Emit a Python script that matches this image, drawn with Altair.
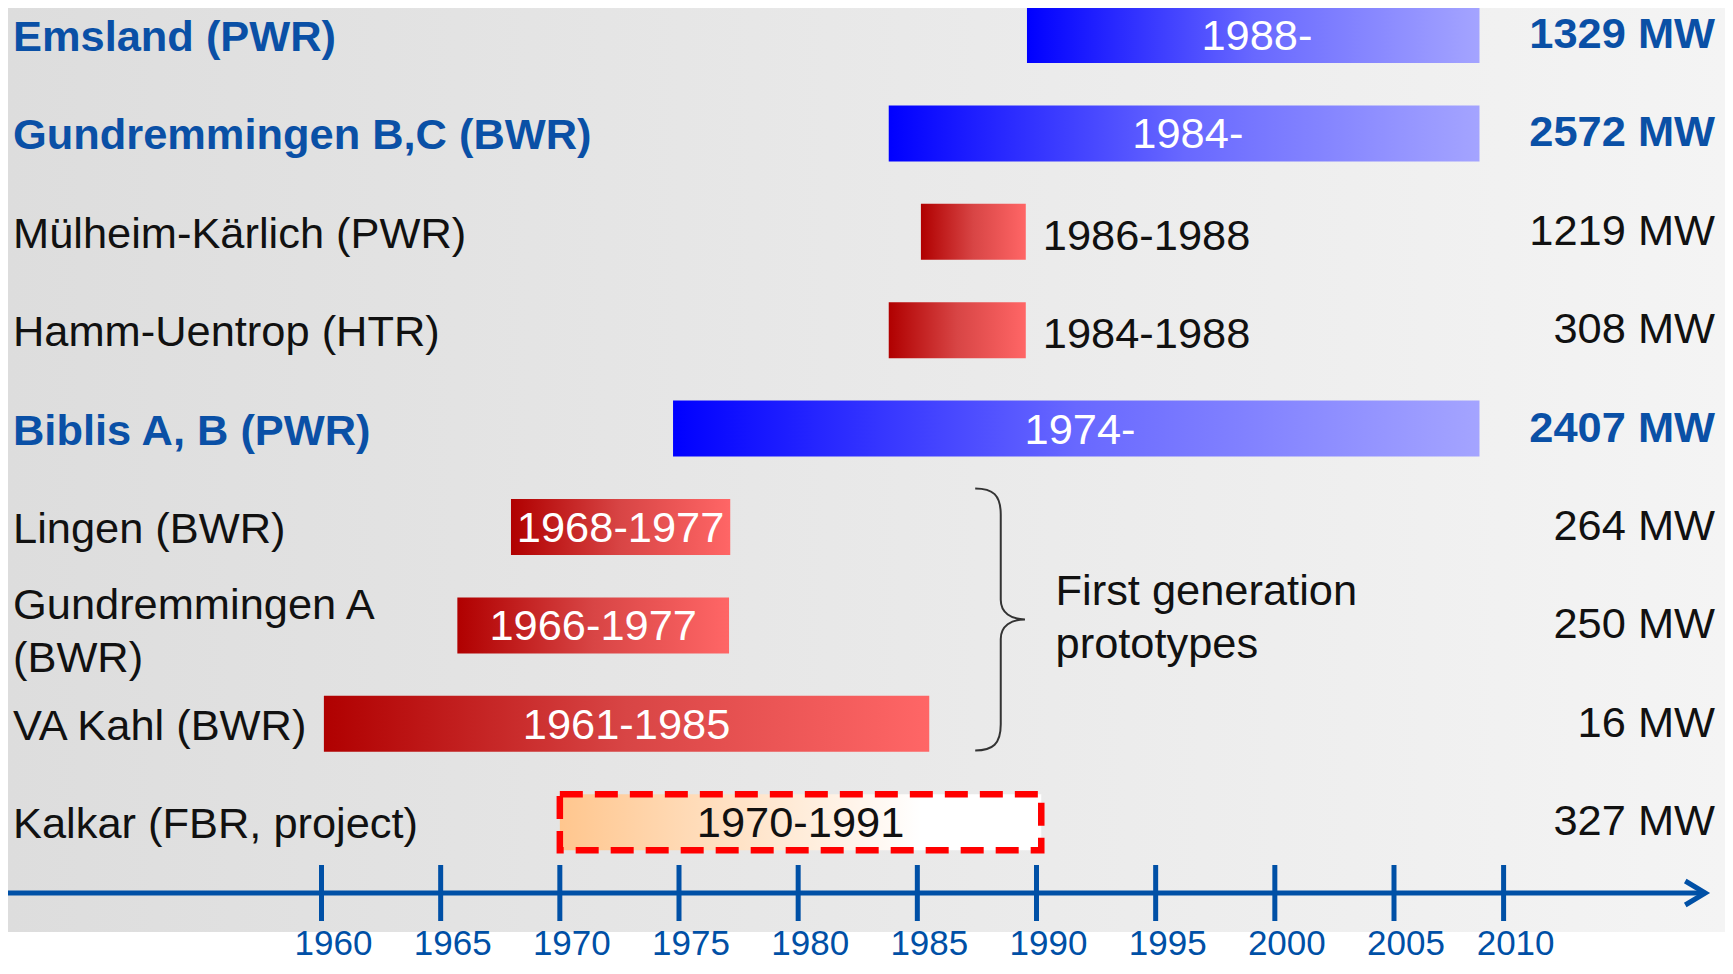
import altair as alt
import pandas as pd

# ---------------- data ----------------
plant_keys = ["emsland", "gund_bc", "muelheim", "hamm", "biblis",
              "lingen", "gund_a", "kahl", "kalkar"]
plant_names = ["Emsland (PWR)", "Gundremmingen B,C (BWR)", "Mülheim-Kärlich (PWR)",
               "Hamm-Uentrop (HTR)", "Biblis A, B (PWR)", "Lingen (BWR)",
               "Gundremmingen A\n(BWR)", "VA Kahl (BWR)", "Kalkar (FBR, project)"]
status = ["operating", "operating", "shutdown", "shutdown", "operating",
          "shutdown", "shutdown", "shutdown", "project"]
start_year = [1989.6, 1983.8, 1985.15, 1983.8, 1974.75, 1967.95, 1965.7, 1960.1, 1970.0]
end_year = [2008.9, 2008.9, 1989.55, 1989.55, 2008.9, 1977.15, 1977.1, 1985.5, 1990.2]
period_label = ["1988-", "1984-", "1986-1988", "1984-1988", "1974-",
                "1968-1977", "1966-1977", "1961-1985", "1970-1991"]
capacity_mw = [1329, 2572, 1219, 308, 2407, 264, 250, 16, 327]
label_inside = [True, True, False, False, True, True, True, True, True]

tick_years = [1960, 1965, 1970, 1975, 1980, 1985, 1990, 1995, 2000, 2005, 2010]
axis_start_year = 1946.5
axis_end_year = 2019.2

brace_key = "gund_a"
brace_year = 1988.5
note_year = 1990.8
note_text = "First generation\nprototypes"

# ---------------- tables ----------------
df = pd.DataFrame({
    "key": plant_keys, "name": plant_names, "status": status,
    "start": start_year, "end": end_year, "period": period_label,
    "mw": [f"{c} MW" for c in capacity_mw], "inside": label_inside,
})
df["mid"] = (df["start"] + df["end"]) / 2
df["multiline"] = df["name"].str.contains("\n")
ticks_df = pd.DataFrame({"year": tick_years, "label": [str(t) for t in tick_years]})
axis_df = pd.DataFrame({"start": [axis_start_year], "end": [axis_end_year]})
brace_df = pd.DataFrame({"key": [brace_key], "year": [brace_year]})
note_df = pd.DataFrame({"key": [brace_key], "year": [note_year], "text": [note_text]})
bg_df = pd.DataFrame({"a": [0]})

# ---------------- styling ----------------
FONT = "Liberation Sans, Arial, sans-serif"
BLUE_TXT = "#0a50a6"
AXIS_BLUE = "#0050a6"
W, H = 1717, 956
FS = 43.4
LH = 53

xscale = alt.Scale(domain=[1960, 2005, 2010], range=[313.5, 1386, 1495.6],
                   nice=False, zero=False)
yscale = alt.Scale(domain=plant_keys, range=[-22.2, 863.4],
                   paddingInner=0.431, paddingOuter=0.2155)


def grad(stops):
    return alt.LinearGradient(
        gradient="linear",
        stops=[alt.GradientStop(offset=o, color=c) for o, c in stops],
        x1=0, x2=1, y1=0, y2=0)


bg_grad = grad([(0, "#dddddd"), (1, "#f4f4f4")])
blue_grad = grad([(0, "#0000ff"), (0.5, "#6868ff"), (1, "#a4a4ff")])
red_grad = grad([(0, "#b00000"), (0.5, "#d84545"), (1, "#ff6666")])
peach_grad = grad([(0, "#ffc68e"), (0.75, "#ffffff"), (1, "#ffffff")])

X = lambda f: alt.X(f, scale=xscale, axis=None, title=None)
Y = alt.Y("key:N", scale=yscale, axis=None, title=None)

base = alt.Chart(df)

bg = alt.Chart(bg_df).mark_rect(fill=bg_grad).encode(
    x=alt.value(0), x2=alt.value(W), y=alt.value(0), y2=alt.value(924))

blue_bars = base.transform_filter("datum.status == 'operating'").mark_bar(
    fill=blue_grad).encode(x=X("start:Q"), x2="end:Q", y=Y)
red_bars = base.transform_filter("datum.status == 'shutdown'").mark_bar(
    fill=red_grad).encode(x=X("start:Q"), x2="end:Q", y=Y)
proj_bar = base.transform_filter("datum.status == 'project'").mark_bar(
    fill=peach_grad, stroke="#ff0000", strokeWidth=6.5, strokeDash=[23, 12]).encode(
    x=X("start:Q"), x2="end:Q", y=Y)

txt = dict(font=FONT, fontSize=FS, baseline="middle")

in_white = base.transform_filter(
    "datum.inside && datum.status != 'project'").mark_text(
    color="white", align="center", dy=2, **txt).encode(
    x=X("mid:Q"), y=Y, text="period:N")
out_black = base.transform_filter("!datum.inside").mark_text(
    color="#111111", align="left", dx=17, dy=5, **txt).encode(
    x=X("end:Q"), y=Y, text="period:N")
proj_label = base.transform_filter("datum.status == 'project'").mark_text(
    color="#111111", align="center", dy=2, **txt).encode(
    x=X("mid:Q"), y=Y, text="period:N")

left_bold = base.transform_filter("datum.status == 'operating'").mark_text(
    color=BLUE_TXT, fontWeight="bold", align="left", dy=3, **txt).encode(
    x=alt.value(5), y=Y, text="name:N")
left_reg = base.transform_filter(
    "datum.status != 'operating' && !datum.multiline").mark_text(
    color="#111111", align="left", dy=3, **txt).encode(
    x=alt.value(5), y=Y, text="name:N")
left_multi = base.transform_filter(
    "datum.status != 'operating' && datum.multiline").mark_text(
    color="#111111", align="left", dy=3 - LH / 2 + 4,
    lineBreak="\n", lineHeight=LH, **txt).encode(
    x=alt.value(5), y=Y, text="name:N")

mw_bold = base.transform_filter("datum.status == 'operating'").mark_text(
    color=BLUE_TXT, fontWeight="bold", align="right", **txt).encode(
    x=alt.value(1707), y=Y, text="mw:N")
mw_reg = base.transform_filter("datum.status != 'operating'").mark_text(
    color="#111111", align="right", **txt).encode(
    x=alt.value(1707), y=Y, text="mw:N")

brace_path = ("M-0.195,-1 C-0.06,-1 0,-0.95 0,-0.8 L0,-0.15 "
              "C0,-0.05 0.08,0 0.185,0 C0.08,0 0,0.05 0,0.15 "
              "L0,0.8 C0,0.95 -0.06,1 -0.195,1")
brace = alt.Chart(brace_df).mark_point(
    shape=brace_path, size=262 * 262, filled=False, color="#333333",
    strokeWidth=2, opacity=1, yOffset=-6).encode(x=X("year:Q"), y=Y)
note = alt.Chart(note_df).mark_text(
    color="#111111", align="left", lineBreak="\n", lineHeight=LH,
    dy=-11 - LH / 2 + 4, **txt).encode(x=X("year:Q"), y=Y, text="text:N")

axis_line = alt.Chart(axis_df).mark_rule(
    color=AXIS_BLUE, strokeWidth=5, strokeCap="butt").encode(
    x=X("start:Q"), x2="end:Q", y=alt.value(885))
arrow = alt.Chart(axis_df).mark_point(
    shape="M-1,-0.6 L0,0 L-1,0.6", size=1600, filled=False, color=AXIS_BLUE,
    strokeWidth=5, opacity=1).encode(x=X("end:Q"), y=alt.value(885))
tick_rules = alt.Chart(ticks_df).mark_rule(
    color=AXIS_BLUE, strokeWidth=5, strokeCap="butt").encode(
    x=X("year:Q"), y=alt.value(857), y2=alt.value(913))
tick_labels = alt.Chart(ticks_df).mark_text(
    font=FONT, fontSize=35, color=AXIS_BLUE, align="center",
    baseline="alphabetic", dx=12).encode(
    x=X("year:Q"), y=alt.value(947), text="label:N")

chart = alt.layer(
    bg, blue_bars, red_bars, proj_bar,
    in_white, out_black, proj_label,
    left_bold, left_reg, left_multi, mw_bold, mw_reg,
    brace, note,
    axis_line, tick_rules, arrow, tick_labels,
).properties(
    width=W, height=H, padding=0,
    autosize=alt.AutoSizeParams(type="none"),
    background="white",
).configure_view(strokeWidth=0)

chart.save("out.html", embed_options={"renderer": "svg", "actions": False})
